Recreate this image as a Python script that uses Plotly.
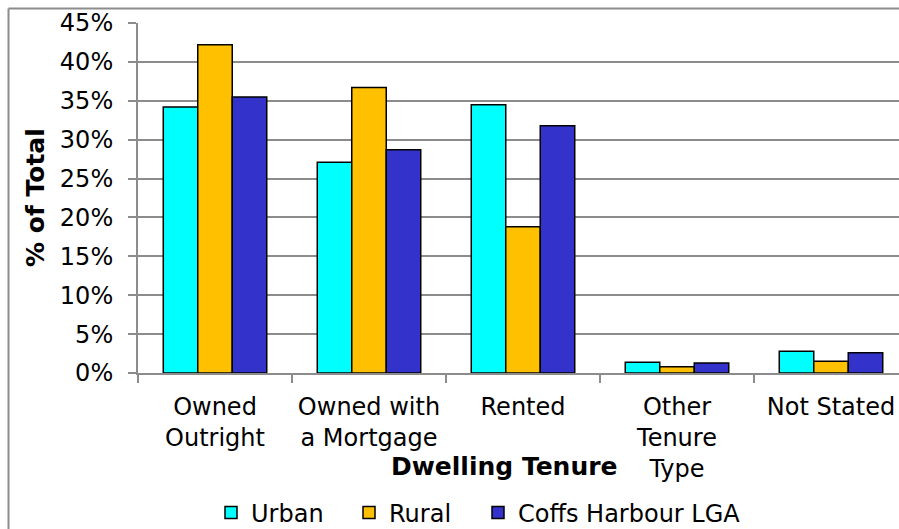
import plotly.graph_objects as go

categories = ["Owned<br>Outright", "Owned with<br>a Mortgage", "Rented", "Other<br>Tenure<br>Type", "Not Stated"]
urban = [0.342, 0.271, 0.345, 0.0137, 0.028]
rural = [0.422, 0.367, 0.188, 0.008, 0.015]
coffs = [0.355, 0.287, 0.318, 0.0128, 0.026]
series_names = ["Urban", "Rural", "Coffs Harbour LGA"]
series_colors = ["#00FFFF", "#FFC000", "#3333CC"]

W, H = 899, 529
L, R, T, B = 138, 0, 23, 156
pw = W - L - R
ph = H - T - B
cat_px = 154.0

FONT = "DejaVu Sans, Verdana, sans-serif"
GRID = "#8c8c8c"

def px_x(x):
    return (x - L) / pw

def px_y(y):
    return (H - B - y) / ph

legend_ids = ["legend", "legend2", "legend3"]
legend_x = [211, 349, 478]

fig = go.Figure()
for name, vals, col, lid in zip(series_names, [urban, rural, coffs], series_colors, legend_ids):
    fig.add_trace(go.Bar(
        x=categories, y=vals, name=name, legend=lid,
        marker=dict(color=col, line=dict(color="#000000", width=1.5)),
    ))

legend_common = dict(orientation="h", xanchor="left", y=px_y(513), yanchor="middle",
                     font=dict(size=24), itemclick=False, bgcolor="rgba(0,0,0,0)")

fig.update_layout(
    width=W, height=H,
    margin=dict(l=L, r=R, t=T, b=B, pad=0, autoexpand=False),
    paper_bgcolor="white", plot_bgcolor="white",
    barmode="group", bargap=0.328, bargroupgap=0,
    font=dict(family=FONT, size=24, color="#000000"),
    showlegend=True,
    legend=dict(x=px_x(legend_x[0]), **legend_common),
    legend2=dict(x=px_x(legend_x[1]), **legend_common),
    legend3=dict(x=px_x(legend_x[2]), **legend_common),
    xaxis=dict(
        type="category", range=[-0.5, -0.5 + pw / cat_px], automargin=False,
        showline=True, linecolor=GRID, linewidth=2,
        ticks="outside", tickson="boundaries", ticklen=8, tickcolor=GRID, tickwidth=2,
        showgrid=False, tickfont=dict(size=24), ticklabelstandoff=11,
    ),
    yaxis=dict(
        range=[0, 0.45], dtick=0.05, tickformat=".0%", automargin=False,
        showline=True, linecolor=GRID, linewidth=2,
        ticks="outside", ticklen=8, tickcolor=GRID, tickwidth=2,
        showgrid=True, gridcolor=GRID, gridwidth=2, zeroline=False,
        tickfont=dict(size=24), ticklabelstandoff=10,
    ),
    annotations=[
        dict(text="<b>% of Total</b>", x=px_x(35), y=0.5, xref="paper", yref="paper",
             textangle=-90, showarrow=False, font=dict(size=25), xanchor="center", yanchor="middle"),
        dict(text="<b>Dwelling Tenure</b>", x=px_x(504), y=px_y(466), xref="paper", yref="paper",
             showarrow=False, font=dict(size=25), xanchor="center", yanchor="middle"),
    ],
    shapes=[
        dict(type="line", xref="paper", yref="paper", x0=px_x(8.5), x1=px_x(8.5), y0=px_y(8.5), y1=px_y(560),
             line=dict(color=GRID, width=2)),
        dict(type="line", xref="paper", yref="paper", x0=px_x(8.5), x1=px_x(920), y0=px_y(8.5), y1=px_y(8.5),
             line=dict(color=GRID, width=2)),
    ],
)

fig.write_html("out.html")
